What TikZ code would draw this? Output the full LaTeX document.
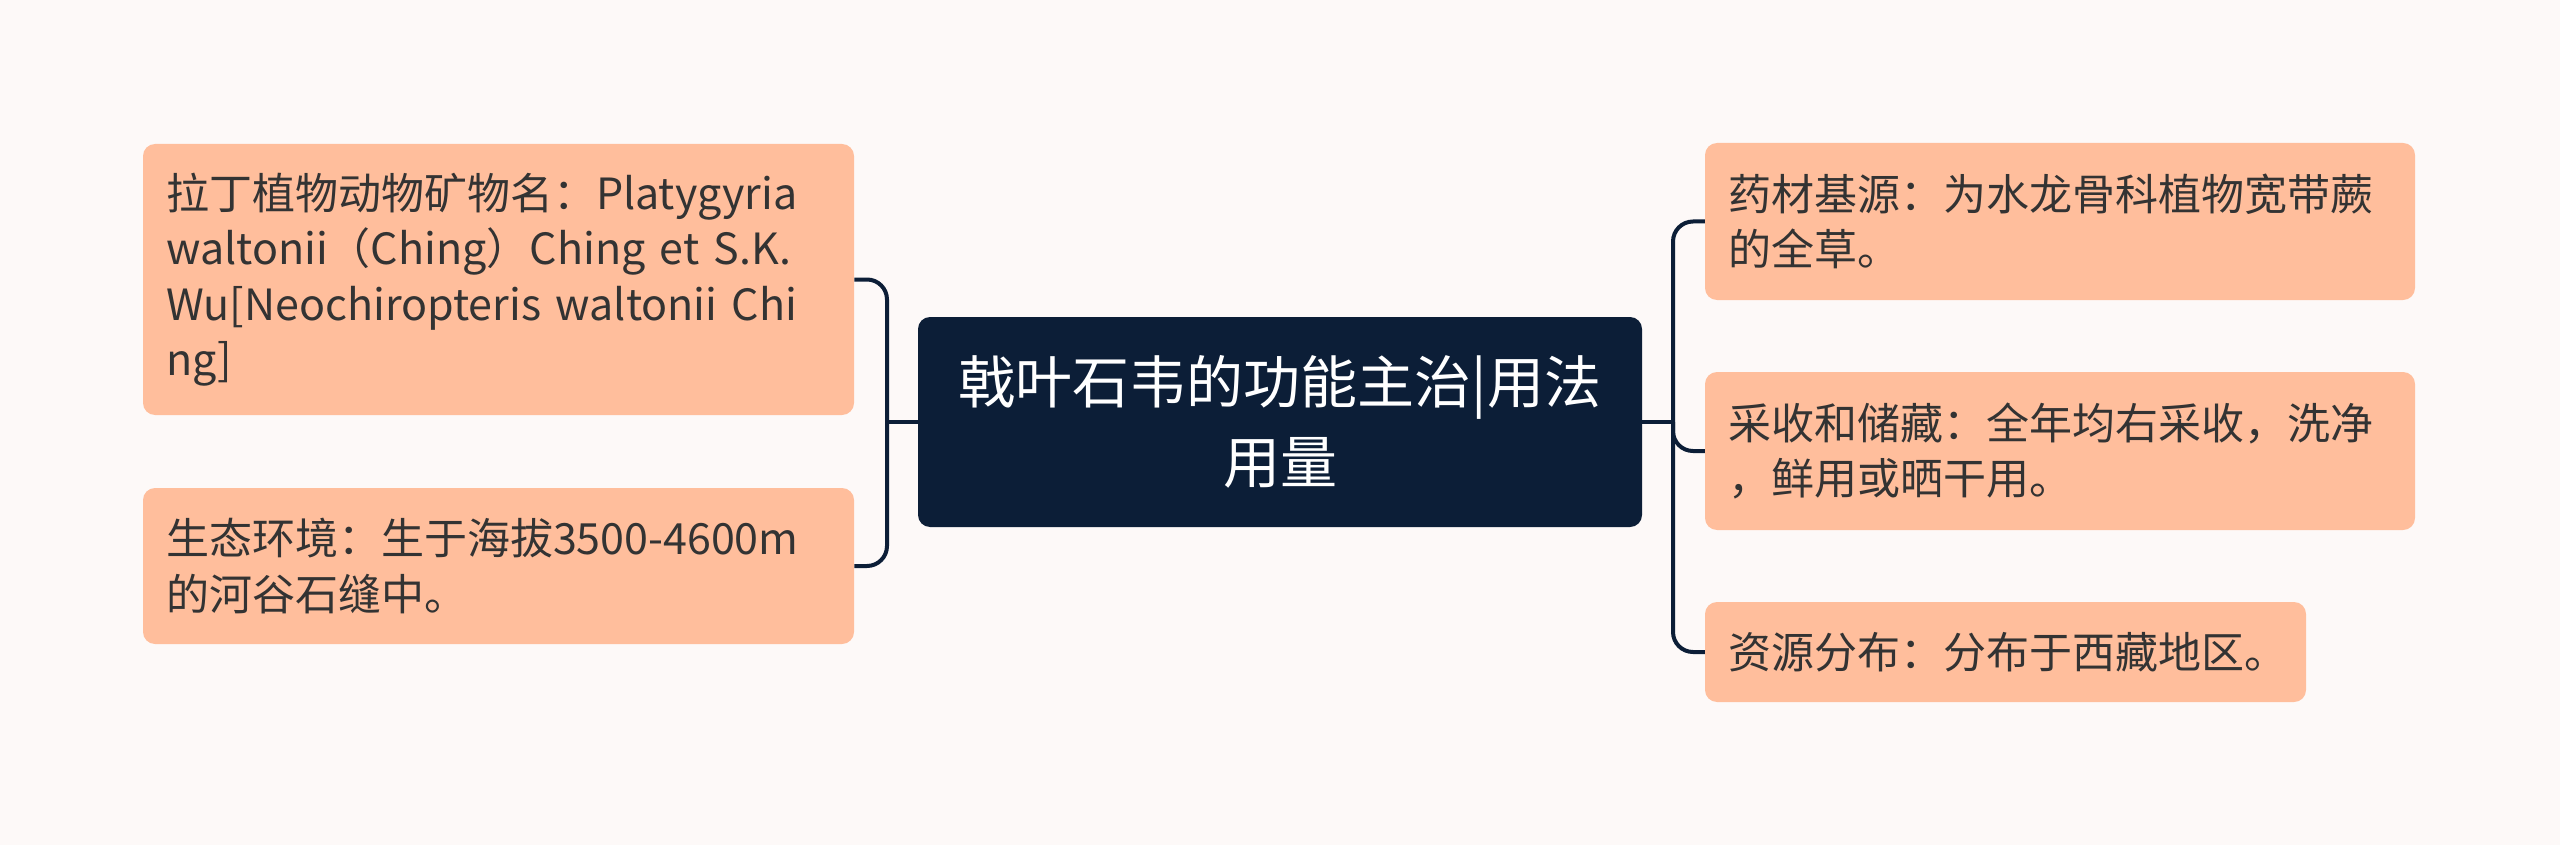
\documentclass[tikz,border=0pt]{standalone}
\usepackage{fontspec}
\setmainfont{Noto Sans CJK SC}
\usepackage{xcolor}
\definecolor{bgpink}{HTML}{FDF9F8}
\definecolor{peach}{HTML}{FFBE9C}
\definecolor{navy}{HTML}{0C1E37}
\definecolor{ink}{HTML}{333333}

\tikzset{
  leaf/.style={fill=peach, rounded corners=9pt, text=ink, align=left, inner xsep=15pt, inner ysep=0pt,
    font=\fontsize{32.25}{41.5}\selectfont},
  topic/.style={fill=navy, rounded corners=9pt, text=white, align=center, inner sep=0pt,
    font=\fontsize{42.75}{60}\selectfont},
  link/.style={draw=navy, line width=3pt, rounded corners=15pt}
}

\begin{document}
\begin{tikzpicture}[x=0.75pt, y=-0.75pt]
            \fill[bgpink] (0,0) rectangle (2560,845);
            \node[topic, minimum width=543pt, minimum height=157.5pt] (root) at (1280,422) {戟叶石韦的功能主治|用法\\用量};
            \node[leaf, text width=503.25pt, minimum height=203.25pt] (latin) at (498.5,279.5) {\hspace*{2.25pt}拉丁植物动物矿物名：Platygyria\\ \hspace*{2.25pt}waltonii（Ching）Ching et S.K.\\ \hspace*{2.25pt}Wu[Neochiropteris waltonii Chi\\ \hspace*{2.25pt}ng]};
            \node[leaf, text width=503.25pt, minimum height=117pt] (habitat) at (498.5,566) {\hspace*{2.25pt}生态环境：生于海拔3500-4600m\\ \hspace*{2.25pt}的河谷石缝中。};
            \node[leaf, text width=502.5pt, minimum height=117.75pt] (source) at (2060,221.5) {\hspace*{2.25pt}药材基源：为水龙骨科植物宽带蕨\\ \hspace*{2.25pt}的全草。};
            \node[leaf, text width=502.5pt, minimum height=118.5pt] (harvest) at (2060,451) {\hspace*{2.25pt}采收和储藏：全年均右采收，洗净\\ \hspace*{2.25pt}，鲜用或晒干用。};
            \node[leaf, text width=420.75pt, minimum height=75pt] (region) at (2005.5,652) {\hspace*{2.25pt}资源分布：分布于西藏地区。};
            \coordinate (lj) at (887,422);
            \coordinate (rj) at (1673,422);
            \draw[link] (root.west) -- (lj);
            \draw[link] (lj) |- (latin.east);
            \draw[link] (lj) |- (habitat.east);
            \draw[link] (root.east) -- (rj);
            \draw[link] (rj) |- (source.west);
            \draw[link] (rj) |- (harvest.west);
            \draw[link] (rj) |- (region.west);
        \end{tikzpicture}
\end{document}
